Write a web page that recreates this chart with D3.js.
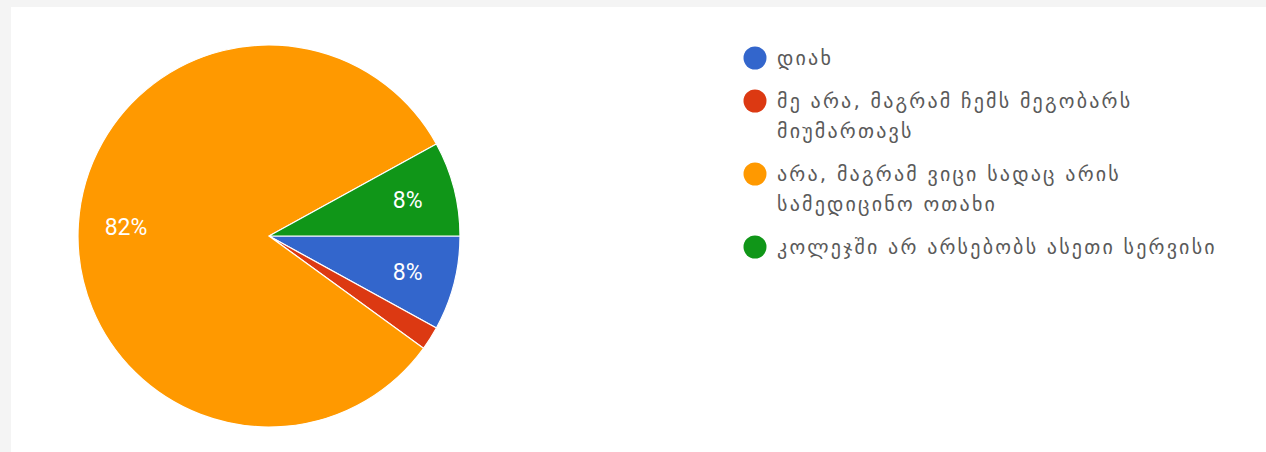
<!DOCTYPE html>
<html>
<head>
<meta charset="utf-8">
<script src="https://cdn.jsdelivr.net/npm/d3@7"></script>
<style>
  html, body { margin: 0; padding: 0; background: #f4f4f4; }
  svg { display: block; }
</style>
</head>
<body>
<svg id="chart" width="1266" height="452"></svg>
<script>
const categories = [
  "დიახ",
  "მე არა, მაგრამ ჩემს მეგობარს მიუმართავს",
  "არა, მაგრამ ვიცი სადაც არის სამედიცინო ოთახი",
  "კოლეჯში არ არსებობს ასეთი სერვისი"
];
const counts = [4, 1, 41, 4];
const colors = ["#3366cc", "#dc3912", "#ff9900", "#109618"];

const svg = d3.select("#chart");
const W = 1266, H = 452;

svg.append("rect").attr("x", 11).attr("y", 7).attr("width", W - 11).attr("height", H - 7).attr("fill", "#ffffff");

const cx = 269, cy = 236, R = 191;
const total = d3.sum(counts);
const data = categories.map((c, i) => ({ name: c, value: counts[i], color: colors[i] }));

const pie = d3.pie().sort(null).value(d => d.value)
  .startAngle(Math.PI / 2).endAngle(Math.PI / 2 + 2 * Math.PI);
const arcs = pie(data);
const arc = d3.arc().innerRadius(0).outerRadius(R);
const labelArc = d3.arc().innerRadius(R * 0.75).outerRadius(R * 0.75);

const g = svg.append("g").attr("transform", `translate(${cx},${cy})`);
g.selectAll("path").data(arcs).join("path")
  .attr("d", arc)
  .attr("fill", d => d.data.color)
  .attr("stroke", "#ffffff")
  .attr("stroke-width", 1.2);

const fmt = v => Math.round(v / total * 100) + "%";
g.selectAll("text.lbl").data(arcs.filter(d => d.data.value / total >= 0.05)).join("text")
  .attr("class", "lbl")
  .attr("transform", d => `translate(${labelArc.centroid(d)})`)
  .attr("text-anchor", "middle")
  .attr("dy", "0.35em")
  .attr("fill", "#ffffff")
  .attr("font-family", "Roboto, Arial, sans-serif")
  .attr("font-size", 23)
  .text(d => fmt(d.data.value));

// Legend
const legX = 755, legY0 = 58, lineH = 30, itemGap = 43, maxW = 470;
const legend = svg.append("g");
let y = legY0;
data.forEach((d, i) => {
  legend.append("circle").attr("cx", legX).attr("cy", y).attr("r", 11.5).attr("fill", d.color);
  const t = legend.append("text")
    .attr("x", legX + 22).attr("y", y)
    .attr("dy", "0.35em")
    .attr("fill", "#5a5a5a")
    .attr("font-family", "'DejaVu Sans', sans-serif")
    .attr("font-size", 20)
    .attr("letter-spacing", 2.2);
  const words = d.name.split(" ");
  let line = [];
  let tspan = t.append("tspan").attr("x", legX + 22);
  let nLines = 1;
  words.forEach(w => {
    line.push(w);
    tspan.text(line.join(" "));
    if (tspan.node().getComputedTextLength() > maxW && line.length > 1) {
      line.pop();
      tspan.text(line.join(" "));
      line = [w];
      tspan = t.append("tspan").attr("x", legX + 22).attr("dy", lineH).text(w);
      nLines++;
    }
  });
  y += (nLines - 1) * lineH + itemGap;
});
</script>
</body>
</html>
